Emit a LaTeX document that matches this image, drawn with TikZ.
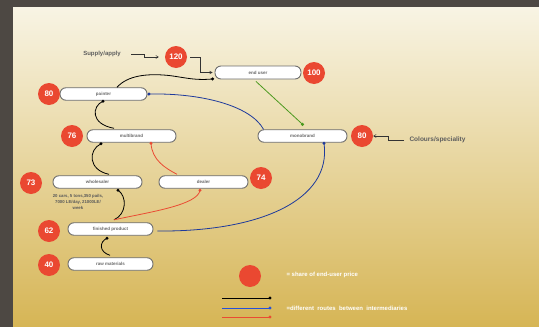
\documentclass[tikz,border=0pt]{standalone}
\usepackage{fontspec}
\setmainfont{Liberation Sans}
\usetikzlibrary{arrows.meta,calc}
\definecolor{bgtop}{HTML}{F8F4E4}
\definecolor{bgmid}{HTML}{EBDBA8}
\definecolor{bgbot}{HTML}{D6B555}
\definecolor{framecol}{HTML}{4D4843}
\definecolor{dotred}{HTML}{EA4831}
\definecolor{boxline}{HTML}{6E6E6E}
\definecolor{labgray}{HTML}{6A6A6A}
\definecolor{lineblue}{HTML}{1E3A9C}
\definecolor{legblue}{HTML}{2650D8}
\definecolor{linered}{HTML}{EA4B33}
\definecolor{linegreen}{HTML}{4C9A1F}
\definecolor{notegray}{HTML}{5E5E5E}
\begin{document}
\begin{tikzpicture}[x=1pt,y=-1pt,
  stage/.style={draw=boxline, line width=0.9pt, fill=white, rounded corners=6pt,
    minimum width=87pt, minimum height=12.5pt, inner sep=0pt,
    font=\bfseries\fontsize{4.5}{5}\selectfont, text=labgray},
  price/.style={circle, fill=dotred, minimum size=22pt, inner sep=0pt,
    font=\bfseries\fontsize{8}{9}\selectfont, text=white},
  route/.style={line width=0.8pt},
  note/.style={font=\bfseries\fontsize{6}{7}\selectfont, text=notegray},
  pointer/.style={draw=black!80, line width=0.5pt, arrows={-Straight Barb[length=2.5pt,width=3pt]}},
  legtext/.style={font=\bfseries\fontsize{6}{7}\selectfont, text=white, anchor=west},
]
\useasboundingbox (0,0) rectangle (539,327);
% background
\shade[top color=bgtop, middle color=bgmid, bottom color=bgbot] (13,7) rectangle (539,327);
\fill[framecol] (0,0) rectangle (13,327);
\fill[framecol] (0,0) rectangle (539,7);

% stage boxes
\node[stage, minimum width=86pt, minimum height=13pt] (enduser) at (258,72.5) {end user};
\node[stage] (painter) at (103.5,94) {painter};
\node[stage, minimum width=89pt] (multibrand) at (131.5,136) {multibrand};
\node[stage, minimum width=89pt] (monobrand) at (302.5,136) {monobrand};
\node[stage, minimum width=89pt] (wholesaler) at (97.5,182) {wholesaler};
\node[stage, minimum width=89pt] (dealer) at (203.5,182) {dealer};
\node[stage, minimum width=85pt] (finished) at (110.5,229) {finished product};
\node[stage, minimum width=85pt] (raw) at (110.5,264) {raw materials};

% price circles
\node[price] (c120) at (176,57) {120};
\node[price] (c100) at (314,73) {100};
\node[price] (c80a) at (49,94) {80};
\node[price] (c76) at (72,136) {76};
\node[price] (c80b) at (362,136) {80};
\node[price] (c73) at (31,183) {73};
\node[price] (c74) at (261,178) {74};
\node[price] (c62) at (49,231) {62};
\node[price] (c40) at (49,265) {40};

% annotations
\node[note] (supply) at (102,54) {Supply/apply};
\coordinate (sa) at (131,54);
\draw[pointer] (sa) -- (144,54) |- ([xshift=-6pt]c120.west);
\draw[pointer] ([xshift=3pt]c120.east) -- (200,57) |- ([xshift=-2pt]enduser.west);
\node[note, anchor=west, font=\bfseries\fontsize{6.5}{7}\selectfont] (colours) at (406,140) {Colours/speciality};
\draw[pointer] ([xshift=-2pt]colours.west) -- (388,140) |- (c80b.east);
\node[note, align=center, font=\bfseries\fontsize{4.3}{5.6}\selectfont, text=black!65] (qty) at (78,202)
  {20 cars, 5 tons,350 pails,\\7000 LE/day, 21000LE/\\week};

% connection points
\coordinate (pa1) at ([xshift=13.5pt]painter.north);
\coordinate (eu1) at ([xshift=-2pt,yshift=0.5pt]enduser.south west);
\coordinate (pa2) at ([xshift=1.5pt]painter.east);
\coordinate (mo1) at ([xshift=6pt]monobrand.north west);
\coordinate (eu2) at ([xshift=-2pt,yshift=-2pt]enduser.south);
\coordinate (mo2) at ([yshift=5pt]monobrand.north);
\coordinate (pa3) at ([xshift=-0.5pt,yshift=-0.5pt]painter.south);
\coordinate (mu1) at ([xshift=-17.5pt,yshift=1pt]multibrand.north);
\coordinate (mu2) at ([xshift=-30.5pt,yshift=-1pt]multibrand.south);
\coordinate (wh1) at ([xshift=11.5pt,yshift=1pt]wholesaler.north);
\coordinate (mu3) at ([xshift=19.5pt,yshift=-0.5pt]multibrand.south);
\coordinate (de1) at ([xshift=-26.5pt,yshift=1pt]dealer.north);
\coordinate (wh2) at ([xshift=20.5pt,yshift=-1.5pt]wholesaler.south);
\coordinate (fi1) at ([xshift=3.5pt,yshift=2.5pt]finished.north);
\coordinate (de2) at ([xshift=-3.5pt,yshift=-1.5pt]dealer.south);
\coordinate (mo3) at ([xshift=21.5pt,yshift=-0.5pt]monobrand.south);
\coordinate (fi2) at ([xshift=4pt,yshift=-2pt]finished.east);
\coordinate (fi3) at ([xshift=-3.5pt,yshift=-2.5pt]finished.south);
\coordinate (ra1) at ([xshift=-0.5pt,yshift=2pt]raw.north);

% routes
\draw[route, black] (pa1) .. controls (128,75) and (148,74) .. (163,75)
  .. controls (180,76) and (192,81) .. (eu1);
\draw[route, lineblue] (pa2) .. controls (200,93) and (250,105) .. (mo1);
\draw[route, linegreen] (eu2) -- (mo2);
\draw[route, black] (pa3) .. controls (92,106) and (90,124) .. (mu1);
\draw[route, black] (mu2) .. controls (88,150) and (88,170) .. (wh1);
\draw[route, linered] (mu3) .. controls (152,160) and (165,168) .. (de1);
\draw[route, black] (wh2) .. controls (127,196) and (127,214) .. (fi1);
\draw[route, linered] (de2) .. controls (198,205) and (150,212) .. (fi1);
\draw[route, lineblue] (mo3) .. controls (332,200) and (260,232) .. (fi2);
\draw[route, black] (fi3) .. controls (99,242) and (99,252) .. (ra1);

% dots
\fill[black] (eu1) circle (1.7pt);
\fill[lineblue] (pa2) circle (1.7pt);
\fill[linegreen] (mo2) circle (1.7pt);
\fill[black] (pa3) circle (1.7pt);
\fill[black] (mu2) circle (1.7pt);
\fill[linered] (mu3) circle (1.7pt);
\fill[black] (wh2) circle (1.7pt);
\fill[linered] (de2) circle (1.7pt);
\fill[lineblue] (mo3) circle (1.7pt);
\fill[black] (fi3) circle (1.7pt);

% legend
\node[price] (legc) at (250,276) {};
\node[legtext] (legt1) at (283,275) {= share of end-user price};
\coordinate (lk1) at (222,298); \coordinate (lk2) at (270,298);
\coordinate (lb1) at (222,308); \coordinate (lb2) at (270,308);
\coordinate (lr1) at (222,317); \coordinate (lr2) at (270,317);
\draw[route, black] (lk1) -- (lk2);
\draw[route, legblue] (lb1) -- (lb2);
\draw[route, linered] (lr1) -- (lr2);
\fill[black] (lk2) circle (1.7pt);
\fill[legblue] (lb2) circle (1.7pt);
\fill[linered] (lr2) circle (1.7pt);
\node[legtext] (legt2) at (283,308) {=different\ \ routes\ \ between\ \ intermediaries};
\end{tikzpicture}
\end{document}
